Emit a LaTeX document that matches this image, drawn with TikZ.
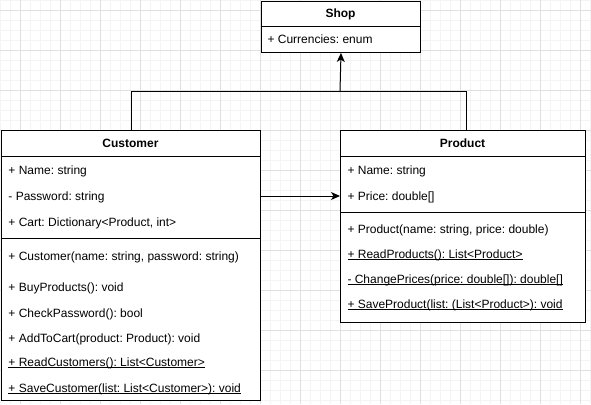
\documentclass[tikz,border=0pt]{standalone}
\usepackage{fontspec}
\setmainfont{Liberation Sans}
\usetikzlibrary{arrows.meta,positioning}
\definecolor{gridminor}{HTML}{F4F4F4}
\definecolor{gridmajor}{HTML}{E0E0E0}
\frenchspacing
% underline for static members
\newcommand{\ulrow}[1]{\setbox0\hbox{#1}\rlap{\rule[-2.2pt]{\wd0}{0.8pt}}\box0}

\begin{document}
\begin{tikzpicture}[
    x = 1pt, y = -1pt, % pixel units, y going down
    > = {Stealth[length=9pt,width=8pt,inset=2.5pt]}, % arrow head style
    line width = 1pt, % line style
    font = \fontsize{12}{14}\selectfont
    ]

    \tikzset{classbox/.style={draw = black, fill = white, inner sep = 0pt, anchor = north west}}
    \tikzset{row/.style={inner sep = 0pt, anchor = west, text height = 10pt, text depth = 2pt}}
    \tikzset{title/.style={row, anchor = center, font = \fontsize{12}{14}\selectfont\bfseries}}

    \useasboundingbox (0,0) rectangle (591,404);
    % background grid
    \foreach \gx in {0,10,...,590} \draw[gridminor, line width=0.6pt] (\gx,0) -- (\gx,404);
    \foreach \gy in {0,10,...,400} \draw[gridminor, line width=0.6pt] (0,\gy) -- (591,\gy);
    \foreach \gx in {20,60,...,580} \draw[gridmajor, line width=0.6pt] (\gx,0) -- (\gx,404);
    \foreach \gy in {10,50,...,370} \draw[gridmajor, line width=0.6pt] (0,\gy) -- (591,\gy);

    % Shop
    \node[classbox, minimum width=159pt, minimum height=51pt] (shop) at (261,1) {};
    \draw (shop.north west) ++(0,26) -- ++(159,0);
    \node[title] (shopname) at (340.5,14) {Shop};
    \node[row] (s1) at (267,40) {+ Currencies: enum};

    % Customer
    \node[classbox, minimum width=259pt, minimum height=270pt] (cust) at (1,130) {};
    \draw (cust.north west) ++(0,26) -- ++(259,0);
    \draw (cust.north west) ++(0,108) -- ++(259,0);
    \node[title] (custname) at (130.5,143) {Customer};
    \node[row] (c1) at (8,170) {+ Name: string};
    \node[row] (c2) at (8,196) {- Password: string};
    \node[row] (c3) at (8,222) {+ Cart: Dictionary<Product, int>};
    \node[row] (c4) at (8,256) {+ Customer(name: string, password: string)};
    \node[row] (c5) at (8,287) {+ BuyProducts(): void};
    \node[row] (c6) at (8,313) {+ CheckPassword(): bool};
    \node[row] (c7) at (8,338) {+ AddToCart(product: Product): void};
    \node[row] (c8) at (8,362) {\ulrow{+ ReadCustomers(): List<Customer>}};
    \node[row] (c9) at (8,388) {\ulrow{+ SaveCustomer(list: List<Customer>): void}};

    % Product
    \node[classbox, minimum width=245pt, minimum height=192pt] (prod) at (340,130) {};
    \draw (prod.north west) ++(0,26) -- ++(245,0);
    \draw (prod.north west) ++(0,82) -- ++(245,0);
    \node[title] (prodname) at (462.5,143) {Product};
    \node[row] (p1) at (347,170) {+ Name: string};
    \node[row] (p2) at (347,196) {+ Price: double[]};
    \node[row] (p3) at (347,229) {+ Product(name: string, price: double)};
    \node[row] (p4) at (347,254) {\ulrow{+ ReadProducts(): List<Product>}};
    \node[row] (p5) at (347,279) {\ulrow{- ChangePrices(price: double[]): double[]}};
    \node[row] (p6) at (347,304) {\ulrow{+ SaveProduct(list: (List<Product>): void}};

    % connectors
    \coordinate (join) at (340,91);
    \draw (cust.north) |- (join);
    \draw ([xshift=3pt]prod.north) |- (join);
    \draw[->] (join) -- (shop.south);
    \draw[->] (c2 -| cust.east) -- (c2 -| prod.west);
\end{tikzpicture}
\end{document}
